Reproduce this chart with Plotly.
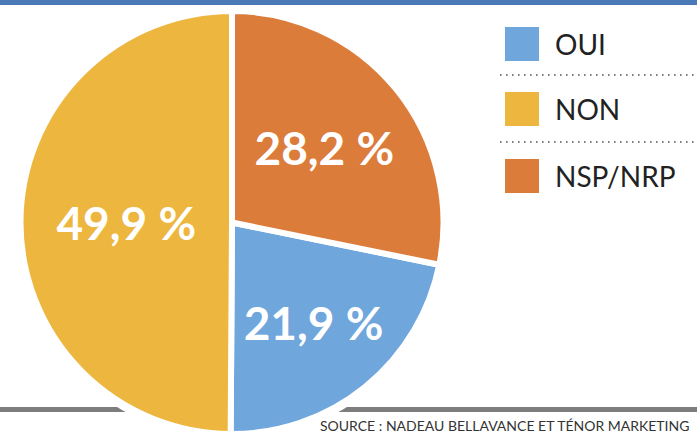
import plotly.graph_objects as go

# ---- data ----
categories = ["OUI", "NON", "NSP/NRP"]
values = [21.9, 49.9, 28.2]
colors = ["#6fa6dc", "#ecb63f", "#dc7c3b"]
label_texts = [f"{v:.1f}".replace(".", ",") + " %" for v in values]
source_text = "SOURCE : NADEAU BELLAVANCE ET TÉNOR MARKETING"

W, H = 697, 434

def px(x):
    return x / W

def py(y):
    return (H - y) / H

# pie geometry (pixels)
top_px = 11
r_px = (H - top_px) / 2
cx_px = 232
cy_px = top_px + r_px

# first slice (OUI) begins after the NSP/NRP slice, clockwise from 12 o'clock
rotation = 360 * values[2] / sum(values)

fig = go.Figure()
fig.add_trace(go.Pie(
    labels=categories,
    values=values,
    text=label_texts,
    textinfo="text",
    textposition="inside",
    insidetextorientation="horizontal",
    insidetextfont=dict(family="Lato, 'Open Sans', sans-serif", size=46, color="white", weight="bold"),
    marker=dict(colors=colors, line=dict(color="white", width=6)),
    sort=False,
    direction="clockwise",
    rotation=rotation,
    hoverinfo="skip",
    showlegend=False,
    domain=dict(x=[px(cx_px - r_px), px(cx_px + r_px)], y=[0, py(top_px)]),
))

shapes = []
# bottom gray rule
shapes.append(dict(type="rect", xref="paper", yref="paper", x0=0, x1=1,
                   y0=py(412), y1=py(407), fillcolor="#7d7d7d", line=dict(width=0), layer="below"))
# white halo behind pie
halo = r_px + 6
shapes.append(dict(type="circle", xref="paper", yref="paper",
                   xsizemode="pixel", ysizemode="pixel",
                   xanchor=px(cx_px), yanchor=py(cy_px),
                   x0=-halo, x1=halo, y0=-halo, y1=halo,
                   fillcolor="white", line=dict(width=0), layer="below"))
# top blue bar
shapes.append(dict(type="rect", xref="paper", yref="paper", x0=0, x1=1,
                   y0=py(5), y1=1, fillcolor="#4b78b6", line=dict(width=0), layer="below"))

# custom legend
leg_centers = [44, 109, 176]
sq = 34
annotations = []
for cat, col, yc in zip(categories, colors, leg_centers):
    shapes.append(dict(type="rect", xref="paper", yref="paper",
                       x0=px(505), x1=px(505 + sq), y0=py(yc + sq / 2), y1=py(yc - sq / 2),
                       fillcolor=col, line=dict(width=0)))
    annotations.append(dict(text=cat, xref="paper", yref="paper", x=px(553), y=py(yc),
                            xanchor="left", yanchor="middle", showarrow=False,
                            font=dict(family="Lato, 'Noto Sans', sans-serif", size=28, color="#222222")))
for yd in [75, 142]:
    shapes.append(dict(type="line", xref="paper", yref="paper", x0=px(500), x1=1,
                       y0=py(yd), y1=py(yd), line=dict(color="#555555", width=1.6, dash="1.6px,4.4px")))

annotations.append(dict(text=source_text, xref="paper", yref="paper", x=px(318), y=py(425),
                        xanchor="left", yanchor="middle", showarrow=False,
                        font=dict(family="Lato, 'Noto Sans', sans-serif", size=14, color="#333333")))

fig.update_layout(
    width=W, height=H,
    margin=dict(l=0, r=0, t=0, b=0),
    paper_bgcolor="white",
    plot_bgcolor="white",
    shapes=shapes,
    annotations=annotations,
    showlegend=False,
)

fig.write_html(
    "out.html",
    include_plotlyjs=True,
    full_html=True,
    config={"displayModeBar": False},
    post_script="document.body.style.margin='0';document.body.style.padding='0';document.body.style.overflow='hidden';",
)
